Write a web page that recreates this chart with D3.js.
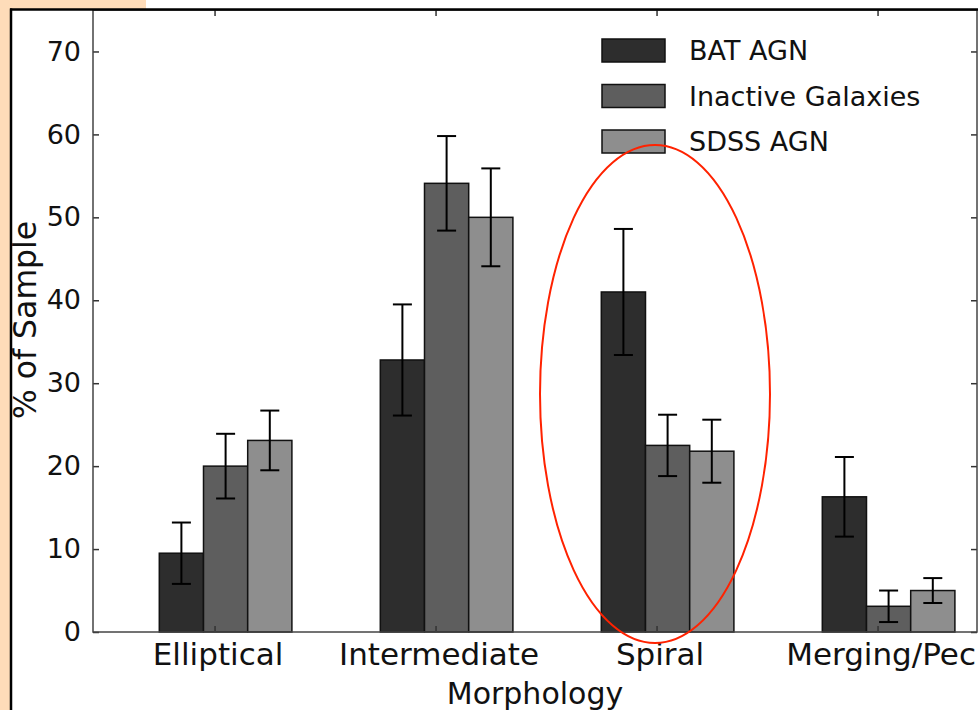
<!DOCTYPE html>
<html>
<head>
<meta charset="utf-8">
<script src="https://cdn.jsdelivr.net/npm/d3@7"></script>
<style>
  html, body { margin: 0; padding: 0; background: #fff; }
  svg { display: block; font-family: "DejaVu Sans", sans-serif; }
</style>
</head>
<body>
<svg id="chart" width="978" height="710"></svg>
<script>
// Morphology categories and series (percent of sample, with error)
const categories = ["Elliptical", "Intermediate", "Spiral", "Merging/Pec"];
const seriesNames = ["BAT AGN", "Inactive Galaxies", "SDSS AGN"];
const batValues = [9.5, 32.8, 41.0, 16.3];
const batErrors = [3.7, 6.7, 7.6, 4.8];
const inactiveValues = [20.0, 54.1, 22.5, 3.1];
const inactiveErrors = [3.9, 5.7, 3.7, 1.9];
const sdssValues = [23.1, 50.0, 21.8, 5.0];
const sdssErrors = [3.6, 5.9, 3.8, 1.5];
const yTicks = [0, 10, 20, 30, 40, 50, 60, 70];

const colors = ["#2d2d2d", "#5e5e5e", "#8e8e8e"];
const series = [
    { name: seriesNames[0], values: batValues, errors: batErrors },
    { name: seriesNames[1], values: inactiveValues, errors: inactiveErrors },
    { name: seriesNames[2], values: sdssValues, errors: sdssErrors }
];

const svg = d3.select("#chart");

// Plot area
const plotLeft = 93, plotRight = 977, plotTop = 10, plotBottom = 632;
const barW = 0.2;

// Peach page background bits
svg.append("rect").attr("x", 0).attr("y", 0).attr("width", 11).attr("height", 710).attr("fill", "#fedcb9");
svg.append("rect").attr("x", 0).attr("y", 0).attr("width", 146).attr("height", 9).attr("fill", "#fedcb9");

// Scales
const x = d3.scaleLinear().domain([-0.3, 3.7]).range([plotLeft, plotRight]);
const y = d3.scaleLinear().domain([0, 75]).range([plotBottom, plotTop]);

// Bars
series.forEach((s, k) => {
    svg.append("g")
        .selectAll("rect")
        .data(s.values)
        .enter().append("rect")
        .attr("x", (d, i) => x(i + k * barW))
        .attr("y", d => y(d))
        .attr("width", x(barW) - x(0))
        .attr("height", d => y(0) - y(d))
        .attr("fill", colors[k])
        .attr("stroke", "#111")
        .attr("stroke-width", 1.5);
});

// Error bars
series.forEach((s, k) => {
    const g = svg.append("g").attr("stroke", "#000").attr("stroke-width", 2);
    s.values.forEach((v, i) => {
        const cx = x(i + k * barW + barW / 2);
        const lo = v - s.errors[i], hi = v + s.errors[i];
        g.append("line").attr("x1", cx).attr("x2", cx).attr("y1", y(lo)).attr("y2", y(hi));
        g.append("line").attr("x1", cx - 9.5).attr("x2", cx + 9.5).attr("y1", y(lo)).attr("y2", y(lo));
        g.append("line").attr("x1", cx - 9.5).attr("x2", cx + 9.5).attr("y1", y(hi)).attr("y2", y(hi));
    });
});

// Axes (inward ticks on all four sides, matplotlib classic look)
const tickPos = categories.map((c, i) => i + 0.25);

svg.append("g")
    .attr("transform", `translate(0,${plotBottom})`)
    .call(d3.axisBottom(x).tickValues(tickPos).tickFormat((d, i) => categories[i]).tickSizeInner(-6).tickSizeOuter(0).tickPadding(11))
    .call(g => g.select(".domain").remove())
    .call(g => g.selectAll("text").attr("dx", 3).style("font-size", "31px").attr("fill", "#111").attr("font-family", "DejaVu Sans"));

svg.append("g")
    .attr("transform", `translate(0,${plotTop})`)
    .call(d3.axisTop(x).tickValues(tickPos).tickFormat("").tickSizeInner(-6).tickSizeOuter(0))
    .call(g => g.select(".domain").remove());

svg.append("g")
    .attr("transform", `translate(${plotLeft},0)`)
    .call(d3.axisLeft(y).tickValues(yTicks).tickSizeInner(-6).tickSizeOuter(0).tickPadding(12))
    .call(g => g.select(".domain").remove())
    .call(g => g.selectAll("text").style("font-size", "27px").attr("fill", "#111").attr("font-family", "DejaVu Sans"));

svg.append("g")
    .attr("transform", `translate(${plotRight},0)`)
    .call(d3.axisRight(y).tickValues(yTicks).tickFormat("").tickSizeInner(-6).tickSizeOuter(0))
    .call(g => g.select(".domain").remove());

svg.selectAll(".tick line").attr("stroke", "#333").attr("stroke-width", 1.5);

// Spines
svg.append("rect")
    .attr("x", plotLeft).attr("y", plotTop)
    .attr("width", plotRight - plotLeft).attr("height", plotBottom - plotTop)
    .attr("fill", "none").attr("stroke", "#444").attr("stroke-width", 1.5);

// Image frame (left and top)
svg.append("line").attr("x1", 11).attr("x2", 11).attr("y1", 8.5).attr("y2", 710).attr("stroke", "#000").attr("stroke-width", 2.5);
svg.append("line").attr("x1", 10).attr("x2", 978).attr("y1", 9.5).attr("y2", 9.5).attr("stroke", "#000").attr("stroke-width", 2.5);

// Axis labels
svg.append("text")
    .attr("x", (plotLeft + plotRight) / 2)
    .attr("y", 704)
    .attr("text-anchor", "middle")
    .style("font-size", "30px")
    .attr("fill", "#111")
    .text("Morphology");

svg.append("text")
    .attr("transform", "translate(36,320) rotate(-90)")
    .attr("text-anchor", "middle")
    .style("font-size", "31.5px")
    .attr("fill", "#111")
    .text("% of Sample");

// Legend
const legend = svg.append("g").attr("transform", "translate(602,39)");
seriesNames.forEach((name, k) => {
    const row = legend.append("g").attr("transform", `translate(0,${k * 45.5})`);
    row.append("rect")
        .attr("width", 63).attr("height", 23)
        .attr("fill", colors[k]).attr("stroke", "#111").attr("stroke-width", 1.5);
    row.append("text")
        .attr("x", 87).attr("y", 11.5)
        .attr("dy", "0.36em")
        .style("font-size", "27px")
        .attr("fill", "#111")
        .text(name);
});

// Red annotation ellipse around the Spiral group
svg.append("ellipse")
    .attr("cx", 655).attr("cy", 394)
    .attr("rx", 115).attr("ry", 249)
    .attr("fill", "none")
    .attr("stroke", "#ff2200")
    .attr("stroke-width", 2);
</script>
</body>
</html>
